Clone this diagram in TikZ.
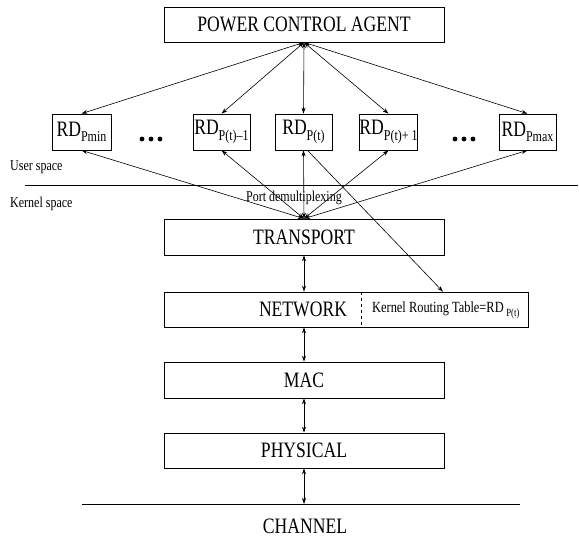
\documentclass[tikz,border=0pt]{standalone}
\usepackage{fontspec}
\setmainfont{Liberation Serif}[FakeStretch=0.8]
\usetikzlibrary{arrows.meta,calc}
\newcommand\bigf{\fontsize{22}{24}\selectfont}
\newcommand\smf{\fontsize{15}{17}\selectfont}
\newcommand\RDs[1]{RD\raisebox{-0.25em}{\smf #1}}
\begin{document}
\begin{tikzpicture}[x=1pt,y=-1pt,
  layer/.style={draw,line width=0.7pt,inner sep=0pt,minimum width=280pt,minimum height=35pt,font=\bigf},
  rdbox/.style={draw,line width=0.7pt,inner sep=0pt,minimum width=57pt,minimum height=36pt,font=\bigf},
  conn/.style={line width=0.6pt,{Stealth[length=6pt,width=4pt]}-{Stealth[length=6pt,width=4pt]}},
  oneway/.style={line width=0.6pt,-{Stealth[length=6pt,width=4pt]}},
  lbl/.style={font=\smf,inner sep=0pt}]
\useasboundingbox (0,0) rectangle (579,537);
% boxes
\node[layer] (pca) at (304,24.5) {POWER CONTROL AGENT};
\node[rdbox,minimum width=59pt] (rd1) at (81.5,132) {\RDs{Pmin}};
\node[rdbox] (rd2) at (221.5,132) {\RDs{P(t)\textendash1}};
\node[rdbox] (rd3) at (303.5,132) {\RDs{P(t)}};
\node[rdbox] (rd4) at (388.5,132) {\RDs{P(t)+ 1}};
\node[rdbox] (rd5) at (527.5,132) {\RDs{Pmax}};
\node[layer,minimum height=36pt] (trans) at (304,237) {TRANSPORT};
\node[layer,minimum width=364pt] (net) at (346,309.5) {};
\node[font=\bigf,inner sep=0pt] (nettxt) at (303,309.5) {NETWORK};
\draw[dashed,line width=0.6pt] (361,292) -- (361,327);
\node[font=\fontsize{15.5}{17}\selectfont,inner sep=0pt,anchor=west] (krt) at (372,310) {Kernel Routing Table=RD\,\raisebox{-0.25em}{\fontsize{11}{12}\selectfont P(t)}};
\node[layer,minimum height=36pt] (mac) at (304,380) {MAC};
\node[layer] (phy) at (304,450.5) {PHYSICAL};
% dots
\foreach \x in {142,151,160,455,464,473} \fill (\x,139) circle (2.4pt);
% user/kernel separator
\coordinate (uL) at (25,185);
\coordinate (uR) at (578,185);
\draw[line width=0.7pt] (uL) -- (uR);
\node[lbl,anchor=west] (us) at (10,167) {User space};
\node[lbl,anchor=west] (ks) at (10,204) {Kernel space};
\node[lbl] (pd) at (294,198) {Port demultiplexing};
% channel
\coordinate (chL) at (82,504);
\coordinate (chR) at (520,504);
\draw[line width=0.7pt] (chL) -- (chR);
\node[font=\bigf,inner sep=0pt,anchor=base] (chan) at (305,533) {CHANNEL};
% connectors agent <-> RDs
\foreach \r in {rd1,rd2,rd3,rd4,rd5} \draw[conn] (pca.south) -- (\r.north);
% transport <-> RDs
\foreach \r in {rd1,rd2,rd3,rd4,rd5} \draw[conn] (trans.north) -- (\r.south);
% RD_P(t) -> routing table
\draw[oneway] ([xshift=4pt]rd3.south) -- ([xshift=97pt]net.north);
% stack
\draw[conn] (trans.south) -- (trans.south |- net.north);
\draw[conn] (trans.south |- net.south) -- (mac.north);
\draw[conn] (mac.south) -- (phy.north);
\draw[conn] (phy.south) -- (phy.south |- chL);
\end{tikzpicture}
\end{document}
